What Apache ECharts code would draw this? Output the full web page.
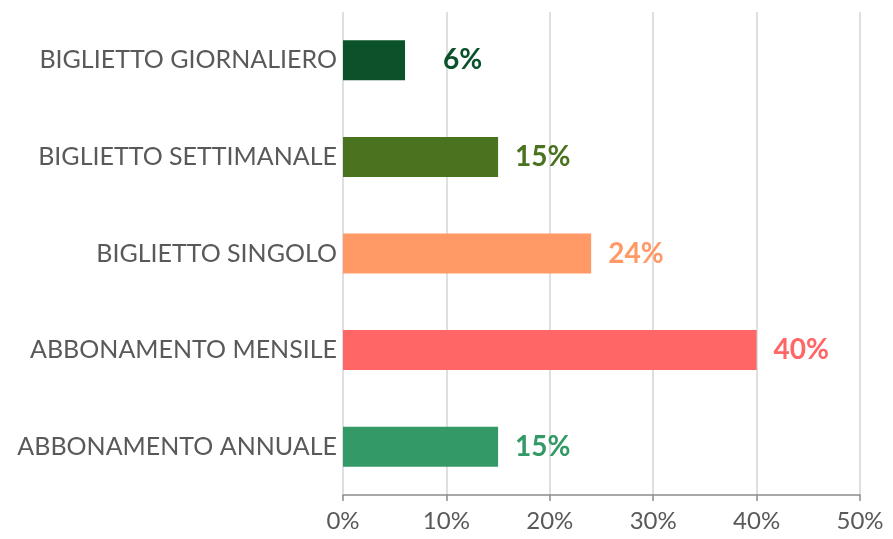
<!DOCTYPE html>
<html>
<head>
<meta charset="utf-8">
<style>
  html, body { margin: 0; padding: 0; background: #ffffff; }
  #chart { width: 893px; height: 539px; }
</style>
<script src="https://cdn.jsdelivr.net/npm/echarts@6/dist/echarts.min.js"></script>
</head>
<body>
<div id="chart"></div>
<script>
// Ticket types, listed bottom to top as the category axis draws them
const categories = [
  'ABBONAMENTO ANNUALE',
  'ABBONAMENTO MENSILE',
  'BIGLIETTO SINGOLO',
  'BIGLIETTO SETTIMANALE',
  'BIGLIETTO GIORNALIERO'
];
// Share of each ticket type, in percent
const shares = [15, 40, 24, 15, 6];
const barColors = ['#339966', '#ff6666', '#ff9966', '#4a7320', '#0b522b'];
const tickValues = [0, 10, 20, 30, 40, 50];

const FONT = 'Lato, "Liberation Sans", sans-serif';

const chart = echarts.init(document.getElementById('chart'), null, { renderer: 'canvas' });

chart.setOption({
  animation: false,
  grid: { left: 343, right: 33, top: 12, bottom: 44, containLabel: false },
  xAxis: {
    type: 'value',
    min: tickValues[0],
    max: tickValues[tickValues.length - 1],
    interval: 10,
    axisLine: { show: true, lineStyle: { color: '#8c8c8c', width: 1.5 } },
    axisTick: { show: true, length: 6, lineStyle: { color: '#8c8c8c', width: 1.5 } },
    splitLine: { show: true, lineStyle: { color: '#d4d4d4', width: 1.5 } },
    axisLabel: {
      formatter: v => v + '%',
      color: '#595959',
      fontFamily: FONT,
      fontSize: 24,
      margin: 14
    }
  },
  yAxis: {
    type: 'category',
    data: categories,
    axisLine: { show: false },
    axisTick: { show: false },
    axisLabel: {
      color: '#595959',
      fontFamily: FONT,
      fontSize: 25,
      margin: 6
    }
  },
  series: [{
    type: 'bar',
    barWidth: 40,
    data: shares.map((v, i) => ({
      value: v,
      itemStyle: { color: barColors[i] },
      label: {
        color: barColors[i],
        distance: v < 10 ? 38 : 17
      }
    })),
    label: {
      show: true,
      position: 'right',
      formatter: p => p.value + '%',
      fontFamily: FONT,
      fontWeight: 'bold',
      fontSize: 28
    }
  }]
});
</script>
</body>
</html>
